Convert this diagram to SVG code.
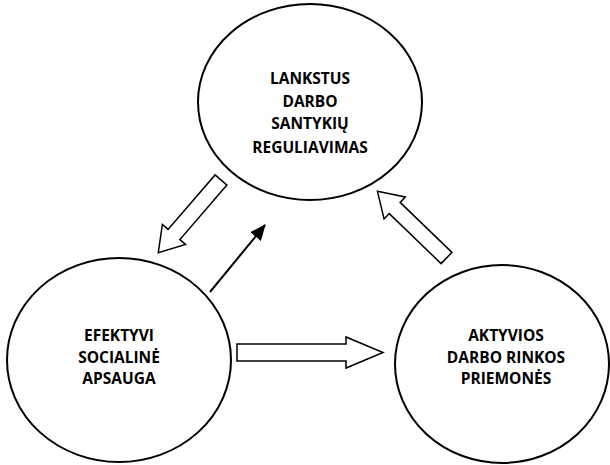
<svg xmlns="http://www.w3.org/2000/svg" width="610" height="465" viewBox="0 0 610 465">
<defs>
<style>
.node ellipse{fill:#fff;stroke:#000;stroke-width:2}
.node text{font-family:"Open Sans","Noto Sans","DejaVu Sans",sans-serif;font-weight:bold;font-size:15.5px;text-anchor:middle;fill:#000}
.block{fill:#fff;stroke:#000;stroke-width:1.5;stroke-linejoin:miter}
.thin{stroke:#000;stroke-width:2;fill:none}
</style>
<marker id="ah2" viewBox="0 0 16 14" refX="15" refY="7" markerWidth="16" markerHeight="14" markerUnits="userSpaceOnUse" orient="auto">
<path d="M0,0 L16,7 L0,14 Z" fill="#000"/>
</marker>
</defs>
<g id="top" class="node">
<ellipse cx="310" cy="102" rx="112" ry="98"/>
<text x="310" y="84">LANKSTUS</text>
<text x="310" y="107">DARBO</text>
<text x="310" y="129">SANTYKIŲ</text>
<text x="310" y="153">REGULIAVIMAS</text>
</g>
<g id="left" class="node">
<ellipse cx="119" cy="360" rx="112" ry="102"/>
<text x="119" y="341">EFEKTYVI</text>
<text x="119" y="363">SOCIALINĖ</text>
<text x="119" y="384">APSAUGA</text>
</g>
<g id="right" class="node">
<ellipse cx="502" cy="364" rx="107" ry="99"/>
<text x="506" y="341">AKTYVIOS</text>
<text x="506" y="363">DARBO RINKOS</text>
<text x="506" y="384">PRIEMONĖS</text>
</g>
<g id="connectors">
<path class="block" transform="translate(221,180) rotate(130.8)" d="M0,-7.8 L72,-7.8 L72,-15.3 L96,0 L72,15.3 L72,7.8 L0,7.8 Z"/>
<path class="block" transform="translate(446.5,258) rotate(-136)" d="M0,-7.8 L72,-7.8 L72,-15.3 L96,0 L72,15.3 L72,7.8 L0,7.8 Z"/>
<path class="block" transform="translate(237,352.5)" d="M0,-8.5 L109,-8.5 L109,-15.5 L146,0 L109,15.5 L109,8.5 L0,8.5 Z"/>
<line class="thin" x1="210" y1="292" x2="265" y2="225" marker-end="url(#ah2)"/>
</g>
</svg>
